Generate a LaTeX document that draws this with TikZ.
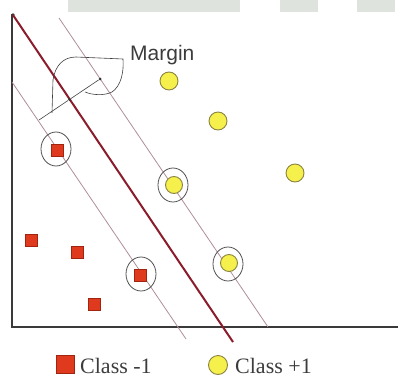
\documentclass[tikz,border=0pt]{standalone}
\usepackage{fontspec}
\usetikzlibrary{shapes.geometric}
\newfontfamily\sansf{Liberation Sans}
\newfontfamily\serff{Liberation Serif}
\definecolor{barcol}{HTML}{DFE3DE}
\definecolor{axiscol}{HTML}{3A3A3A}
\definecolor{hypcol}{HTML}{8B1C2C}
\definecolor{margcol}{HTML}{B08E98}
\definecolor{negfill}{HTML}{E03A1E}
\definecolor{negborder}{HTML}{A02410}
\definecolor{posfill}{HTML}{F6F04C}
\definecolor{posborder}{HTML}{8A8440}
\definecolor{svcol}{HTML}{505050}
\definecolor{txtcol}{HTML}{3C3C3C}
\begin{document}
\begin{tikzpicture}[x=1pt,y=-1pt,
  bar/.style={fill=barcol,draw=none},
  axisline/.style={draw=axiscol,line width=2pt},
  hyper/.style={draw=hypcol,line width=2pt},
  marg/.style={draw=margcol,line width=0.8pt},
  pospt/.style={circle,draw=posborder,fill=posfill,line width=0.9pt,minimum size=18pt,inner sep=0pt},
  negpt/.style={rectangle,draw=negborder,fill=negfill,line width=0.6pt,minimum size=12pt,inner sep=0pt},
  svring/.style={ellipse,draw=svcol,line width=0.8pt,minimum width=30pt,minimum height=34pt,inner sep=0pt},
  thinline/.style={draw=black!75,line width=0.6pt},
  dotmark/.style={circle,fill=black!80,inner sep=0pt,minimum size=3pt},
  lbl/.style={inner sep=0pt,anchor=base west,text=txtcol}]
\useasboundingbox (0,0) rectangle (398,377);
% top gray bar
\fill[bar] (68,0) rectangle (240,12);
\fill[bar] (280,0) rectangle (318,12);
\fill[bar] (357,0) rectangle (395,12);
% axes
\coordinate (origin) at (12,327);
\coordinate (ytop) at (12,14);
\coordinate (xend) at (398,327);
\draw[axisline] (ytop) -- (origin) -- (xend);
\node[circle,fill=axiscol,inner sep=0pt,minimum size=3.5pt] (topdot) at (13,15) {};
% margin lines and hyperplane
\coordinate (rm1) at (59,18);
\coordinate (rm2) at (268,327);
\coordinate (lm1) at (12,82);
\coordinate (lm2) at (186,339);
\coordinate (h1) at (13,15);
\coordinate (h2) at (233,342);
\draw[marg] (rm1) -- (rm2);
\draw[marg] (lm1) -- (lm2);
\draw[hyper] (h1) -- (h2);
% margin annotation
\coordinate (ml) at (39,120);
\node[dotmark] (mc) at (69.5,99.5) {};
\node[dotmark] (mr) at (100,79) {};
\draw[thinline] (ml) -- (mc) -- (mr);
\draw[thinline] (52,113) -- (53,80) .. controls (55,66) and (63,57) .. (76,57) -- (123,59)
  .. controls (124,72) and (121,86) .. (112,92) .. controls (104,96) and (92,95) .. (85,92);
\node[lbl,font=\sansf\fontsize{21}{24}\selectfont] (mlabel) at (130,61) {Margin};
% class +1 points
\node[pospt] (p1) at (169,81) {};
\node[pospt] (p2) at (218,121) {};
\node[pospt] (p3) at (295,173) {};
\node[pospt,minimum size=17pt] (p4) at (174,185) {};
\node[pospt,minimum size=17pt] (p5) at (229,263) {};
\node[svring] (s4) at (173,185) {};
\node[svring] (s5) at (228,264) {};
% class -1 points
\node[negpt] (n1) at (57,150) {};
\node[negpt] (n2) at (31,240) {};
\node[negpt] (n3) at (77,252) {};
\node[negpt] (n4) at (140,275) {};
\node[negpt] (n5) at (94,304) {};
\node[svring] (s1) at (56,149) {};
\node[svring] (s2) at (141,274) {};
% legend
\node[rectangle,fill=negfill,draw=negborder,line width=0.4pt,minimum size=18pt,inner sep=0pt] (legneg) at (65,364) {};
\node[lbl,font=\serff\fontsize{22}{24}\selectfont] (legnegt) at (80,373) {Class -1};
\node[circle,fill=posfill,draw=posborder,line width=0.9pt,minimum size=19pt,inner sep=0pt] (legpos) at (218,365) {};
\node[lbl,font=\serff\fontsize{22}{24}\selectfont] (legpost) at (235,373) {Class +1};
\end{tikzpicture}
\end{document}
